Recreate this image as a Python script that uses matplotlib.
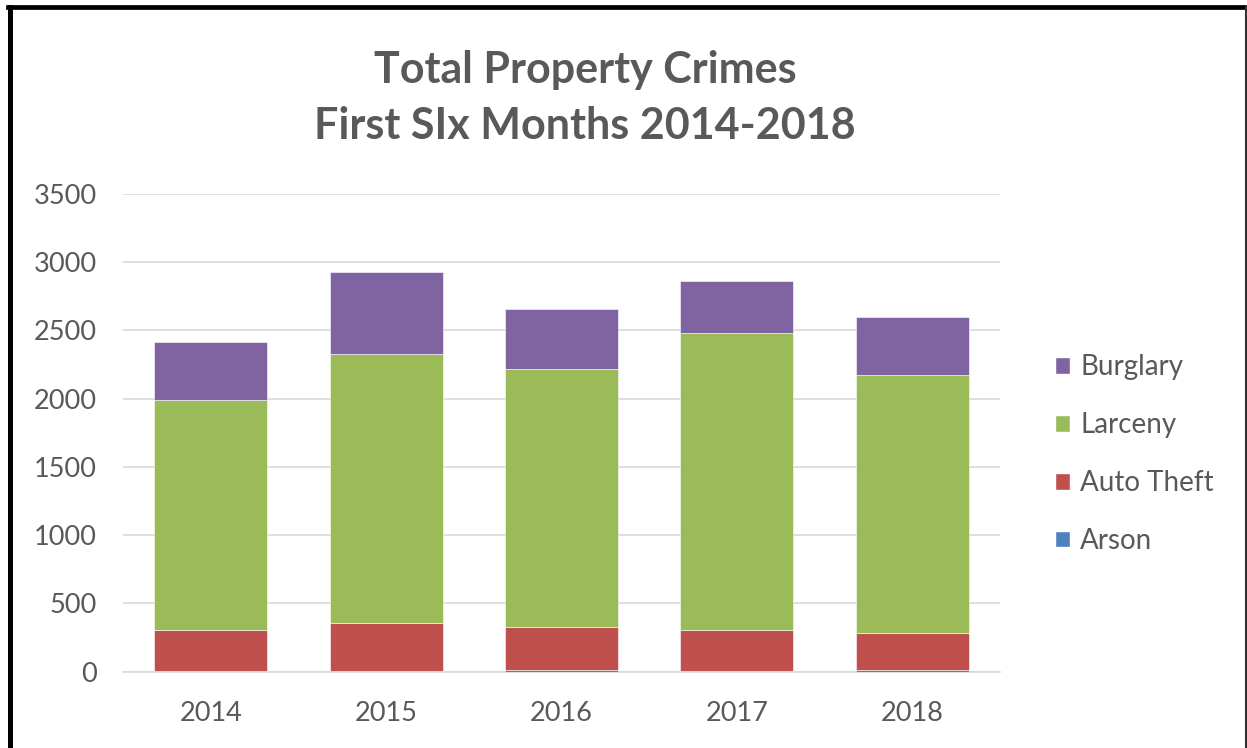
import matplotlib
matplotlib.use("Agg")
import matplotlib.pyplot as plt
from matplotlib.patches import Patch
import numpy as np

plt.rcParams["font.family"] = ["Lato", "DejaVu Sans"]

years = ["2014", "2015", "2016", "2017", "2018"]
arson = [2, 3, 12, 3, 12]
auto_theft = [304, 352, 318, 303, 270]
larceny = [1686, 1976, 1891, 2172, 1891]
burglary = [423, 594, 438, 386, 425]

colors = {"Arson": "#4F81BD", "Auto Theft": "#C0504D",
          "Larceny": "#9BBB59", "Burglary": "#8064A2"}
text_color = "#595959"

W, H = 1247, 748
fig = plt.figure(figsize=(W / 100, H / 100), dpi=100)
ax = fig.add_axes([123 / W, 1 - 671.7 / H, 877 / W, (671.7 - 194) / H])

x = np.arange(len(years))
width = 0.645
bottom = np.zeros(len(years))
for name, vals in [("Arson", arson), ("Auto Theft", auto_theft),
                   ("Larceny", larceny), ("Burglary", burglary)]:
    ax.bar(x, vals, width, bottom=bottom, color=colors[name],
           edgecolor="white", linewidth=0.4, zorder=3)
    bottom += np.array(vals)

ax.set_xlim(-0.5, len(years) - 0.5)
ax.set_ylim(0, 3500)
ax.set_yticks(range(0, 3501, 500))
ax.set_xticks(x)
ax.set_xticklabels(years)
ax.grid(axis="y", color="#D9D9D9", linewidth=1.2, zorder=0)
for s in ["top", "right", "left"]:
    ax.spines[s].set_visible(False)
ax.spines["bottom"].set_color("#D9D9D9")
ax.spines["bottom"].set_linewidth(1.2)
ax.tick_params(axis="both", length=0, labelsize=19.5, colors=text_color)
ax.tick_params(axis="y", pad=19)
ax.tick_params(axis="x", pad=21)

fig.text(585 / W, 1 - 70 / H, "Total Property Crimes", ha="center", va="center",
         fontsize=31, fontweight="bold", color=text_color)
fig.text(585 / W, 1 - 126 / H, "First SIx Months 2014-2018", ha="center", va="center",
         fontsize=31, fontweight="bold", color=text_color)

handles = [Patch(facecolor=colors[n], edgecolor="white", label=n)
           for n in ["Burglary", "Larceny", "Auto Theft", "Arson"]]
fig.legend(handles=handles, loc="center left", bbox_to_anchor=(1030 / W, 1 - 454 / H),
           frameon=False, fontsize=20, labelcolor=text_color, handlelength=0.55,
           handleheight=0.55, handletextpad=0.36, labelspacing=1.15)

# black frame like the screenshot
fig.add_artist(plt.Line2D([9.5 / W, 9.5 / W], [0, 1 - 7 / H], color="black", linewidth=3.6))
fig.add_artist(plt.Line2D([8 / W, 1], [1 - 7 / H, 1 - 7 / H], color="black", linewidth=3.4))
fig.add_artist(plt.Line2D([1245.5 / W, 1245.5 / W], [0, 1 - 7 / H], color="#333333", linewidth=1.5))

fig.savefig("out.png", dpi=100)
